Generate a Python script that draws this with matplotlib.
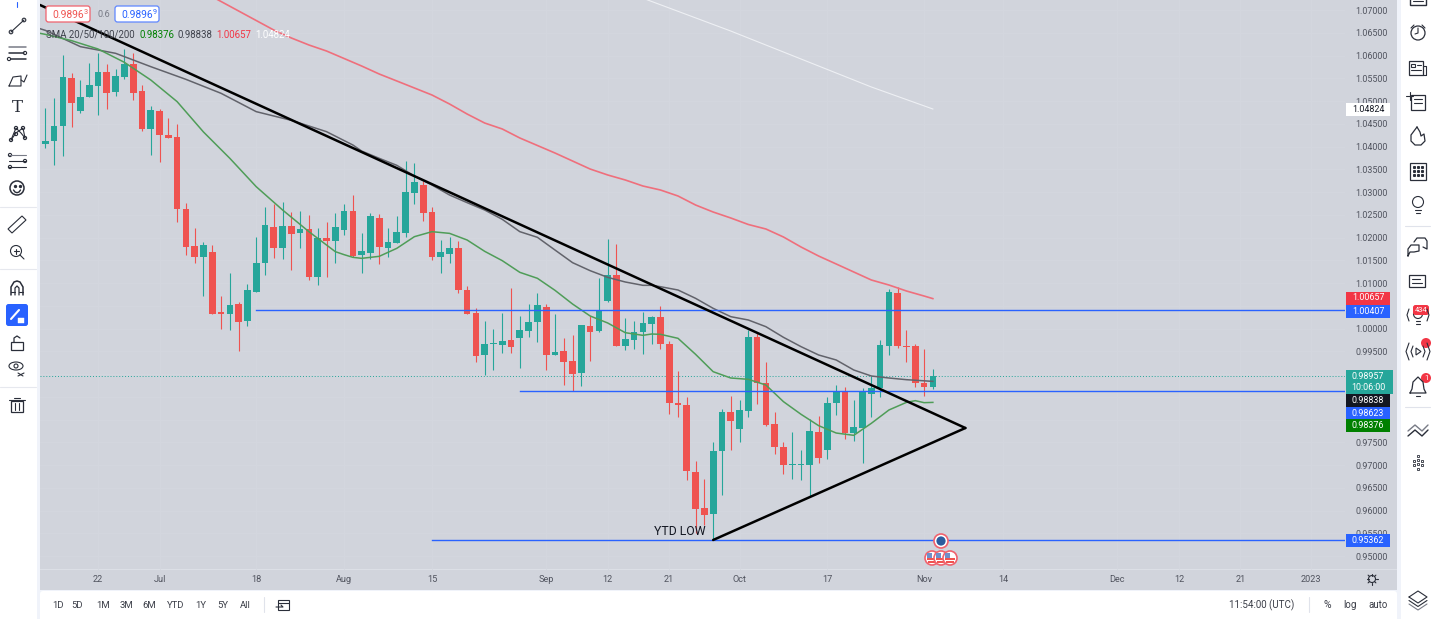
import numpy as np
import pandas as pd
import matplotlib
matplotlib.use("Agg")
import matplotlib.pyplot as plt
from matplotlib.patches import Circle, Ellipse, FancyBboxPatch, Polygon, Rectangle

plt.rcParams["font.family"] = ["Roboto", "DejaVu Sans"]

W, H = 1432, 619
BG = "#d1d4dc"
GRID = "#d4d7df"
STRIP = "#f0f3fa"
INK = "#2a2e39"
TICK = "#50535e"
UP = "#26a69a"
DOWN = "#ef5350"
BLUE = "#2962ff"

FIRST_BAR = "2022-06-14"

OPENS = [1.04048, 1.04128, 1.04443, 1.05506, 1.04788, 1.05088, 1.05337, 1.05638, 1.05198, 1.05528,
         1.05821, 1.05213, 1.04377, 1.0478, 1.04253, 1.04209, 1.02627, 1.01813, 1.01572, 1.01682,
         1.00363, 1.00312, 1.00539, 1.00165, 1.00795, 1.01432, 1.02231, 1.01762, 1.02253, 1.02092,
         1.02187, 1.01132, 1.01989, 1.01923, 1.02165, 1.02583, 1.01615, 1.01659, 1.02428, 1.01762,
         1.01886, 1.02099, 1.02978, 1.03154, 1.0256, 1.01564, 1.01645, 1.01762, 1.00853, 1.00341,
         0.9941, 0.99652, 0.99645, 0.99747, 0.99791, 0.99938, 1.00143, 1.00472, 0.99418, 0.99505,
         0.99278, 0.99022, 1.00062, 0.99938, 1.00604, 1.01176, 0.99623, 0.99747, 0.9993, 1.00099,
         1.00245, 0.99667, 0.98363, 0.98311, 0.96854, 0.96062, 0.9593, 0.97308, 0.98158, 0.97799,
         0.9818, 0.99813, 0.9881, 0.97894, 0.97396, 0.97, 0.97, 0.97, 0.97725, 0.9733,
         0.98355, 0.98604, 0.97711, 0.97813, 0.98561, 0.987, 0.99623, 1.0078, 0.99608, 0.99615,
         0.98802, 0.98722]
HIGHS = [1.04854, 1.05073, 1.06011, 1.05608, 1.05462, 1.05828, 1.06048, 1.05813, 1.05704, 1.06143,
         1.06048, 1.05352, 1.04883, 1.04824, 1.04627, 1.04495, 1.02751, 1.02209, 1.01894, 1.01828,
         1.00722, 1.0122, 1.00575, 1.00971, 1.02004, 1.02678, 1.02736, 1.02788, 1.02553, 1.0259,
         1.02495, 1.02202, 1.02341, 1.02531, 1.02744, 1.02927, 1.02091, 1.02531, 1.02509, 1.02201,
         1.02472, 1.03681, 1.03637, 1.03249, 1.02678, 1.01945, 1.02018, 1.0193, 1.00934, 1.00458,
         1.00165, 0.99989, 1.00333, 1.0089, 1.00275, 1.00538, 1.00773, 1.00531, 1.00326, 0.99784,
         0.9985, 1.00077, 1.00282, 1.01103, 1.01967, 1.01857, 1.00223, 1.00157, 1.00355, 1.00275,
         1.00495, 0.99733, 0.99066, 0.98487, 0.97088, 0.96685, 0.97498, 0.98224, 0.98517, 0.98429,
         0.99967, 0.9993, 0.99256, 0.98158, 0.97513, 0.97718, 0.9733, 0.98004, 0.98077, 0.98502,
         0.98751, 0.98707, 0.98429, 0.98685, 0.98963, 0.9974, 1.00861, 1.00919, 0.99967, 0.99652,
         0.99542, 0.9911]
LOWS = [1.03975, 1.03594, 1.03799, 1.04436, 1.04737, 1.05088, 1.04693, 1.04824, 1.0511, 1.05491,
        1.0503, 1.04348, 1.03813, 1.03652, 1.0418, 1.02348, 1.01616, 1.01432, 1.00715, 1.00326,
        0.99989, 0.99967, 0.99513, 1.00055, 1.00795, 1.01176, 1.01542, 1.01528, 1.01286, 1.01769,
        1.01066, 1.00956, 1.01132, 1.01447, 1.02055, 1.01579, 1.01227, 1.01535, 1.01418, 1.01579,
        1.01886, 1.02011, 1.02736, 1.0237, 1.01505, 1.01227, 1.01432, 1.00787, 1.00319, 0.99256,
        0.98978, 0.99088, 0.99469, 0.99461, 0.99124, 0.99813, 0.99703, 0.99088, 0.99418, 0.98758,
        0.98634, 0.98744, 0.99293, 0.9993, 1.0059, 0.99623, 0.99535, 0.99542, 0.99447, 0.99659,
        0.99542, 0.98121, 0.98062, 0.96663, 0.95498, 0.95681, 0.95352, 0.96348, 0.9733, 0.97513,
        0.98048, 0.98341, 0.97865, 0.97249, 0.96802, 0.96692, 0.96663, 0.96304, 0.97051, 0.97125,
        0.98106, 0.97579, 0.97535, 0.97037, 0.98062, 0.98487, 0.99425, 0.99571, 0.99264, 0.98722,
        0.98517, 0.98678]
CLOSES = [1.04114, 1.04443, 1.05528, 1.04956, 1.05095, 1.05345, 1.05638, 1.05176, 1.05542, 1.05821,
          1.05176, 1.04377, 1.04802, 1.0426, 1.0418, 1.02627, 1.01791, 1.01572, 1.01828, 1.00326,
          1.00326, 1.00524, 1.00143, 1.00839, 1.01432, 1.02275, 1.01769, 1.02253, 1.02077, 1.02187,
          1.01132, 1.01989, 1.01923, 1.02231, 1.02583, 1.01594, 1.01696, 1.02472, 1.01791, 1.01901,
          1.02121, 1.02993, 1.0322, 1.02546, 1.01571, 1.01681, 1.01762, 1.00853, 1.00319, 0.99396,
          0.99667, 0.99681, 0.99733, 0.99593, 0.99967, 1.00143, 1.00509, 0.9941, 0.99483, 0.99264,
          0.99, 1.00077, 0.9993, 1.00385, 1.01176, 0.99623, 0.99762, 0.9993, 1.00128, 1.00245,
          0.99659, 0.98355, 0.98311, 0.96876, 0.9604, 0.95901, 0.973, 0.98158, 0.97974, 0.98209,
          0.99813, 0.9881, 0.97879, 0.97388, 0.96993, 0.97022, 0.97022, 0.97747, 0.97161, 0.98363,
          0.98612, 0.97703, 0.97828, 0.98612, 0.987, 0.99637, 1.00795, 0.99615, 0.99593, 0.9881,
          0.98714, 0.98957]

SMA20_BARS = [-1, 0, 3, 6, 9, 12, 15, 18, 21, 24, 27, 30, 33, 34, 35, 36, 38, 40, 42, 44, 46, 48, 50, 52, 54,
              56, 58, 60, 62, 64, 66, 68, 69, 70, 72, 74, 76, 78, 80, 82, 84, 86, 88, 90, 92, 94, 96, 98, 99, 100, 101]
SMA20 = [1.06502, 1.06465, 1.06326, 1.06143, 1.0585, 1.05462, 1.04986, 1.04319, 1.0374, 1.03117, 1.02605,
         1.02128, 1.01689, 1.01623, 1.01564, 1.01542, 1.01586, 1.01762, 1.02018, 1.02128, 1.02091, 1.01945,
         1.01696, 1.01491, 1.01234, 1.01103, 1.00839, 1.00538, 1.00275, 1.00121, 0.99908, 0.9985, 0.99879,
         0.99872, 0.99784, 0.99432, 0.99051, 0.98912, 0.98883, 0.98758, 0.98392, 0.98114, 0.97865, 0.97703,
         0.97652, 0.97916, 0.98209, 0.98377, 0.98414, 0.9837, 0.98376]

SMA50_BARS = [-1, 0, 4, 8, 12, 16, 20, 24, 28, 32, 35, 36, 38, 40, 42, 44, 46, 48, 50, 52, 54, 56, 58, 60, 62,
              64, 66, 68, 69, 70, 72, 74, 76, 78, 80, 82, 84, 86, 88, 90, 92, 94, 96, 98, 101]
SMA50 = [1.06612, 1.06553, 1.06194, 1.06048, 1.05755, 1.05476, 1.05169, 1.04766, 1.04575, 1.04326, 1.04033,
         1.0390, 1.0374, 1.03586, 1.03352, 1.03154, 1.02934, 1.02766, 1.02604, 1.02399, 1.02128, 1.02004,
         1.01725, 1.01447, 1.01271, 1.01124, 1.01022, 1.00949, 1.00949, 1.00919, 1.00846, 1.00663, 1.00443,
         1.0026, 1.00187, 1.0004, 0.99806, 0.99601, 0.99418, 0.99308, 0.99088, 0.98956, 0.98912, 0.98875, 0.98838]

SMA100_BARS = [18, 22, 24, 26, 28, 30, 32, 34, 36, 38, 40, 42, 44, 46, 48, 50, 52, 54, 56, 58, 60, 62, 64, 66,
               68, 70, 72, 74, 76, 78, 80, 82, 84, 86, 88, 90, 92, 94, 96, 98, 100, 101]
SMA100 = [1.07396, 1.06978, 1.06769, 1.0656, 1.06385, 1.06231, 1.06099, 1.05934, 1.05769, 1.05593, 1.0544,
          1.05286, 1.05132, 1.04934, 1.04714, 1.04516, 1.04385, 1.04187, 1.04022, 1.03857, 1.03681, 1.03505,
          1.03374, 1.03264, 1.03132, 1.03044, 1.02912, 1.02714, 1.0256, 1.02429, 1.02286, 1.02187, 1.02011,
          1.01791, 1.01593, 1.01418, 1.01242, 1.01066, 1.00956, 1.00824, 1.00714, 1.00657]

SMA200_BARS = [68, 78, 86, 94, 101]
SMA200 = [1.0726, 1.06538, 1.05923, 1.05308, 1.04824]

# hand drawn trend lines: (bar, price) at each end
UPPER_TREND_BARS = [-0.6, 104.7]
UPPER_TREND = [1.0711, 0.97813]
LOWER_TREND_BARS = [76, 104.7]
LOWER_TREND = [0.95352, 0.97813]

LEVELS = [1.00407, 0.98623, 0.95362]
LEVEL_START_BARS = [24, 54, 44]
LAST_PRICE = 0.98957

TICK_DATES = ["2022-06-22", "2022-07-01", "2022-07-18", "2022-08-01", "2022-08-15", "2022-09-01", "2022-09-12",
              "2022-09-21", "2022-10-03", "2022-10-17", "2022-11-01", "2022-11-14", "2022-12-01", "2022-12-12",
              "2022-12-21", "2023-01-02"]
TICK_LABELS = ["22", "Jul", "18", "Aug", "15", "Sep", "12", "21", "Oct", "17", "Nov", "14", "Dec", "12", "21", "2023"]
PRICE_TICKS = [0.95 + 0.005 * k for k in range(25)]
# these sit fully behind the price tags in the reference
COVERED_TICKS = ["1.00500", "0.99000", "0.98500", "0.98000"]

RANGE_BUTTONS = ["1D", "5D", "1M", "3M", "6M", "YTD", "1Y", "5Y", "All"]
RANGE_X = [58, 77, 103, 126, 149, 176, 201, 223, 245]

# price scale tags: text, colour, text colour, centre row in pixels
TAGS = [("1.04824", "#ffffff", "#131722", 109), ("1.00657", "#f23645", "#ffffff", 298),
        ("1.00407", BLUE, "#ffffff", 311), ("0.98838", "#131722", "#ffffff", 400.5),
        ("0.98623", BLUE, "#ffffff", 413), ("0.98376", "#008000", "#ffffff", 425.5),
        ("0.95362", BLUE, "#ffffff", 540.5)]

fig = plt.figure(figsize=(W / 100, H / 100), dpi=100, facecolor="white")


def px_axes(left, top, right, bottom):
    return [left / W, 1 - bottom / H, (right - left) / W, (bottom - top) / H]


back = fig.add_axes([0, 0, 1, 1], zorder=0)
back.set_xlim(0, W)
back.set_ylim(H, 0)
back.axis("off")
back.add_patch(Rectangle((37, 0), 1364, 619, color=STRIP, lw=0))
back.add_patch(Rectangle((40, 0), 1357, 590, color=BG, lw=0))
back.add_patch(Rectangle((40, 569), 1357, 1, color="#dcdfe6", lw=0))

# main price pane
ax = fig.add_axes(px_axes(40, 0, 1345, 570), zorder=1)
ax.patch.set_visible(False)
for side in ax.spines.values():
    side.set_visible(False)
ax.set_xlim(-0.603, 147.9)
ax.set_ylim(1.07 - 560 / 4550, 1.07 + 10 / 4550)

dates = pd.bdate_range(FIRST_BAR, periods=150)
bars = np.arange(len(OPENS))
opens, highs, lows, closes = map(np.array, (OPENS, HIGHS, LOWS, CLOSES))
colors = np.where(closes >= opens, UP, DOWN)

ax.vlines(bars, lows, highs, colors=colors, lw=0.8, zorder=3)
ax.bar(bars, np.abs(closes - opens), bottom=np.minimum(opens, closes), width=0.76, color=colors, lw=0, zorder=3)

ax.plot(SMA200_BARS, SMA200, color="#eef0f4", lw=0.8, zorder=4)
ax.plot(SMA100_BARS, SMA100, color="#ef6f7c", lw=1.2, zorder=4)
ax.plot(SMA50_BARS, SMA50, color="#62636b", lw=1.1, zorder=4)
ax.plot(SMA20_BARS, SMA20, color="#4f9d58", lw=1.1, zorder=4)

for level, start in zip(LEVELS, LEVEL_START_BARS):
    ax.plot([start, ax.get_xlim()[1]], [level, level], color=BLUE, lw=1.0, zorder=5)
ax.axhline(LAST_PRICE, color=UP, lw=0.7, ls=(0, (1, 2)), zorder=2)

ax.plot(UPPER_TREND_BARS, UPPER_TREND, color="black", lw=1.8, solid_capstyle="round", zorder=6)
ax.plot(LOWER_TREND_BARS, LOWER_TREND, color="black", lw=1.8, solid_capstyle="round", zorder=6)
ax.text(75.1, 0.95549, "YTD LOW", color="#131722", fontsize=8.8, ha="right", va="center", zorder=6)

ax.yaxis.tick_right()
ax.set_yticks(PRICE_TICKS)
tick_texts = [f"{p:.5f}" for p in PRICE_TICKS]
ax.set_yticklabels(["" if t in COVERED_TICKS else t for t in tick_texts], color=TICK, fontsize=6.4)
ax.set_xticks([dates.get_loc(pd.Timestamp(d)) for d in TICK_DATES])
ax.set_xticklabels(TICK_LABELS, color=TICK, fontsize=6.6)
ax.tick_params(axis="y", length=0, pad=7.5)
ax.tick_params(axis="x", length=0, pad=3.5)
ax.grid(color=GRID, lw=0.6)
ax.set_axisbelow(True)

# chrome and overlays in pixel coordinates
ui = fig.add_axes([0, 0, 1, 1], zorder=2)
ui.set_xlim(0, W)
ui.set_ylim(H, 0)
ui.axis("off")


def ln(xs, ys, lw=0.8, c=INK):
    ui.plot(xs, ys, color=c, lw=lw, solid_capstyle="round", solid_joinstyle="round")


def ring(x, y, r, ec=INK, fc="none", lw=0.8):
    ui.add_patch(Circle((x, y), r, ec=ec, fc=fc, lw=lw))


def box(x, y, w, h, ec=INK, fc="none", lw=0.8):
    ui.add_patch(Rectangle((x, y), w, h, ec=ec, fc=fc, lw=lw))


def badge(x, y, w, h, fc, ec="none", lw=0):
    ui.add_patch(FancyBboxPatch((x, y), w, h, boxstyle="round,pad=0,rounding_size=2.5", fc=fc, ec=ec, lw=lw))


def label(x, y, s, c=TICK, size=6.6, ha="center", **kw):
    ui.text(x, y, s, color=c, fontsize=size, ha=ha, va="center", **kw)


# panels
ui.add_patch(FancyBboxPatch((40, 591), 1357, 40, boxstyle="round,pad=0,rounding_size=3", fc="white", ec="none"))
ui.add_patch(Rectangle((0, 0), 37, H, color="white", lw=0))
ui.add_patch(Rectangle((1401, 0), 31, H, color="white", lw=0))
for y in (206.5, 269, 387):
    ln([0, 36], [y, y], lw=0.8, c="#e6e8ee")
for y in (226, 407):
    ln([1405, 1430], [y, y], lw=0.8, c="#e0e3eb")
ln([264, 264], [597, 612], c="#e0e3eb")
ln([1309, 1309], [597, 612], c="#e0e3eb")

# price scale tags
for text, fc, tc, y in TAGS:
    ui.add_patch(Rectangle((1346, y - 6.5), 44, 13, color=fc, lw=0))
    label(1368, y, text, c=tc, size=6.4)
ui.add_patch(Rectangle((1346, 370), 47, 24, color=UP, lw=0))
label(1368, 376.5, f"{LAST_PRICE:.5f}", c="white", size=6.4)
label(1368, 388, "10:06:00", c="white", size=6.4)

# legend
badge(46, 6, 44, 16, "white", "#f0616d", 0.9)
badge(115, 6, 44, 16, "white", "#5f86ff", 0.9)
label(52, 14.5, "0.9896", c=DOWN, size=7.4, ha="left")
label(84, 13, "3", c=DOWN, size=5.2, ha="left")
label(121, 14.5, "0.9896", c=BLUE, size=7.4, ha="left")
label(153, 13, "9", c=BLUE, size=5.2, ha="left")
label(97, 14.5, "0.6", c="#787b86", size=6.6, ha="left")
label(46, 35, "SMA 20/50/100/200", c="#3f424c", size=6.9, ha="left")
label(139, 35, "0.98376", c="#008000", size=6.9, ha="left")
label(177, 35, "0.98838", c="#3f424c", size=6.9, ha="left")
label(216, 35, "1.00657", c="#f23645", size=6.9, ha="left")
label(255, 35, "1.04824", c="white", size=6.9, ha="left")

# bottom bar
for s, x in zip(RANGE_BUTTONS, RANGE_X):
    label(x, 605, s, c="#3a3d47", size=6.8)
label(1262, 605, "11:54:00 (UTC)", c="#3a3d47", size=7)
label(1327, 605, "%", c="#3a3d47", size=7.4)
label(1350, 605, "log", c="#3a3d47", size=7)
label(1378, 605, "auto", c="#3a3d47", size=7)
box(278, 600, 11, 10)
ln([278, 289], [603, 603])
ln([276, 283, 281], [607, 607, 605])

# gear
ring(1372, 579, 3.5)
for a in np.linspace(0, 2 * np.pi, 8, endpoint=False):
    ln([1372 + 3.5 * np.cos(a), 1372 + 5.5 * np.cos(a)], [579 + 3.5 * np.sin(a), 579 + 5.5 * np.sin(a)])

# event flags
ui.add_patch(Circle((941, 541), 7, ec="#f0616d", fc="white", lw=1.2, zorder=7))
ui.add_patch(Circle((941, 541), 4.6, ec="none", fc="#2b5c9e", zorder=7))
for x in (932, 941, 950):
    ui.add_patch(Circle((x, 558), 7, ec="#f0616d", fc="white", lw=1.2, zorder=7))
    ui.add_patch(Rectangle((x - 5, 558), 10, 1.5, color="#ef5350", lw=0, zorder=7))
    ui.add_patch(Rectangle((x - 4, 561), 8, 1.5, color="#ef5350", lw=0, zorder=7))
    ui.add_patch(Rectangle((x - 5, 553), 5, 4.5, color="#6f8fc9", lw=0, zorder=7))

# left toolbar
ln([17, 17], [2, 7], c=BLUE)
ln([11, 24], [32, 20]); ring(11, 32, 1.8, fc="white"); ring(24, 20, 1.8, fc="white")
ln([9, 26], [47, 47], lw=1.1, c="#787b86"); ln([9, 24], [53, 53], lw=1.1); ln([11, 26], [59, 59], lw=1.1)
ring(25, 53, 1.6, fc="white"); ring(9, 59, 1.6, fc="white")
ln([9, 13, 21, 21, 9], [86, 77, 76, 86, 86]); ln([21, 24, 27], [80, 82, 75])
label(17.5, 107, "T", c=INK, size=12, family="DejaVu Serif")
ln([11, 16, 21, 25], [140, 128, 133, 138]); ln([11, 16, 23, 25], [140, 133, 128, 138])
for px, py in [(11, 140), (16, 128), (23, 128), (25, 138), (16, 134)]:
    ring(px, py, 1.6, fc="white")
ln([9, 26], [155, 155], c="#787b86"); ln([9, 26], [161, 161]); ln([9, 26], [167, 167])
ring(10, 155, 1.6, fc="white"); ring(25, 161, 1.6, fc="white"); ring(10, 167, 1.6, fc="white")
ring(17, 188, 7, lw=1.1); ui.plot([14.5, 19.5], [186, 186], "o", ms=1.4, color=INK)
ln([13.5, 15, 17, 19, 20.5], [190, 192, 192.7, 192, 190], lw=1)
ui.add_patch(Polygon([(8, 229), (22, 216), (26, 220), (12, 233)], closed=True, fc="none", ec=INK, lw=0.8))
ring(16, 251, 5.5); ln([20, 24], [255, 259]); ln([13.5, 18.5], [251, 251]); ln([16, 16], [248.5, 253.5])
ln([11, 11, 14, 17, 20, 23, 23], [295, 287, 282, 281, 282, 287, 295], lw=1.1)
ln([15, 15, 17, 19, 19], [295, 288, 286, 288, 295], lw=0.9); ln([11, 15], [292, 292]); ln([19, 23], [292, 292])
badge(6, 304, 22, 22, BLUE)
ln([11, 19], [319, 310], c="white", lw=1.5); box(18, 318, 6, 5, ec="white", fc="white", lw=0.3)
box(11, 342, 12, 8, lw=0.9); ln([14, 14, 17, 20], [342, 338, 336, 338], lw=0.9)
ui.add_patch(Ellipse((16, 366), 14, 8, ec=INK, fc="none", lw=0.8)); ring(16, 366, 2)
ln([18, 24], [376, 373]); ln([18, 23], [373, 376])
box(11, 401, 12, 11, lw=0.9); ln([9, 25], [400, 400]); ln([14, 20], [398, 398]); ln([15, 15], [403, 410]); ln([19, 19], [403, 410])

# right toolbar
RX = 1418
box(RX - 8, -4, 16, 9, lw=1); ln([RX - 5, RX + 5], [1, 1])
ring(RX, 33, 7, lw=0.9); ln([RX, RX, RX - 3], [28, 33, 34]); ln([RX - 7, RX - 4], [28, 25]); ln([RX + 7, RX + 4], [28, 25])
box(RX - 9, 61, 14, 14, lw=0.9); ln([RX + 5, RX + 8, RX + 8], [66, 66, 75]); ln([RX + 5, RX + 8], [75, 75])
box(RX - 7, 64, 4, 3); ln([RX - 1, RX + 3], [65, 65]); ln([RX - 7, RX + 3], [70, 70])
box(RX - 7, 95, 14, 15, lw=0.9); ln([RX - 4, RX + 4], [99, 99]); ln([RX - 4, RX + 4], [103, 103]); ln([RX - 12, RX - 5], [96, 96]); ln([RX - 8.5, RX - 8.5], [92, 100])
ln([RX - 1, RX - 7, RX - 7, RX - 3, RX + 3, RX + 7, RX + 6, RX + 3, RX + 2, RX - 1],
   [127, 135, 141, 145, 145, 141, 134, 136, 132, 127], lw=0.9)
box(RX - 8, 163, 16, 17, lw=0.9); ui.plot([RX - 4, RX, RX + 4] * 3, [167] * 3 + [171] * 3 + [175] * 3, "s", ms=1.2, color=INK)
ring(RX, 202, 5.5); ln([RX - 3, RX + 3], [210, 210]); ln([RX - 2, RX + 2], [213, 213])
ln([RX - 10, RX - 10, RX - 7, RX + 1, RX + 1, RX - 4, RX - 8, RX - 10], [256, 249, 245, 245, 251, 252, 252, 256], lw=0.9)
ln([RX - 4, RX - 1, RX + 7, RX + 9, RX + 9, RX + 5], [242, 238, 238, 241, 249, 247], lw=0.9)
box(RX - 9, 275, 16, 12, lw=0.9); ln([RX - 6, RX + 2], [279, 279]); ln([RX - 6, RX + 4], [283, 283])
ring(RX, 314, 4.5); ln([RX - 2, RX + 2], [321, 321]); ln([RX - 2, RX + 2], [324, 324])
ln([RX - 9, RX - 11, RX - 9], [309, 315, 321]); ln([RX + 9, RX + 11, RX + 9], [309, 315, 321])
badge(RX - 5, 305, 16, 10, "#f23645")
label(RX + 3, 310, "434", c="white", size=5.4)
ui.add_patch(Polygon([(RX - 2, 348), (RX + 3, 351.5), (RX - 2, 355)], closed=True, fc="none", ec=INK, lw=0.8))
ln([RX - 5, RX - 7, RX - 5], [346, 351.5, 357]); ln([RX + 5, RX + 7, RX + 5], [346, 351.5, 357])
ln([RX - 9, RX - 12, RX - 9], [343, 351.5, 360]); ln([RX + 9, RX + 12, RX + 9], [343, 351.5, 360])
ring(RX + 8, 343, 5, ec="none", fc="#f23645", lw=0)
ln([RX - 8, RX - 6, RX - 5, RX, RX + 5, RX + 6, RX + 8, RX - 8], [393, 389, 382, 377, 382, 389, 393, 393], lw=0.9)
ln([RX - 2, RX + 2], [396, 396])
ring(RX + 8, 378, 5, ec="none", fc="#f23645", lw=0)
label(RX + 8, 378, "1", c="white", size=5.4)
ln([RX - 10, RX - 3, RX + 4, RX + 10], [436, 430, 436, 430], lw=1)
ln([RX - 10, RX - 3, RX + 4, RX + 10], [431, 425, 431, 425], c="#787b86", lw=1)
ui.plot([RX - 4, RX - 4, RX, RX, RX, RX, RX + 4, RX + 4], [461, 465, 456, 460, 464, 469, 461, 465], "s", ms=1.5, mfc="none", mec=INK, mew=0.6)
ln([RX - 9, RX, RX + 9, RX, RX - 9], [597, 603, 597, 591, 597])
ln([RX - 9, RX, RX + 9], [600.5, 606.5, 600.5])
ln([RX - 9, RX, RX + 9], [604, 610, 604], c="#787b86")

fig.savefig("out.png", dpi=100)
